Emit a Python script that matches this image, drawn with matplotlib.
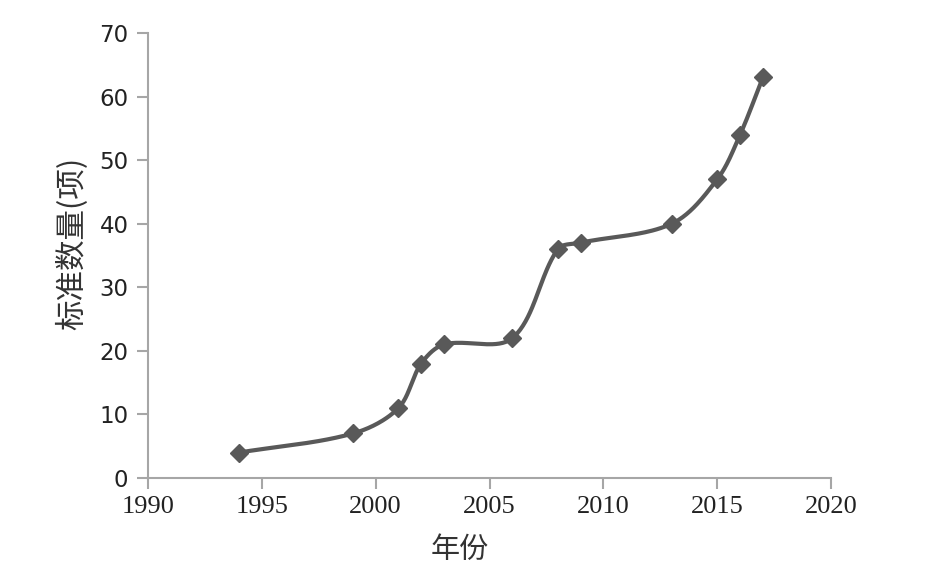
import numpy as np
import matplotlib
matplotlib.use("Agg")
import matplotlib.pyplot as plt

years = [1994, 1999, 2001, 2002, 2003, 2006, 2008, 2009, 2013, 2015, 2016, 2017]
counts = [4, 7, 11, 18, 21, 22, 36, 37, 40, 47, 54, 63]
x_ticks = [1990, 1995, 2000, 2005, 2010, 2015, 2020]
y_ticks = [0, 10, 20, 30, 40, 50, 60, 70]
x_label = "年份"
y_label = "标准数量(项)"


def smooth_curve(xs, ys, sx=1.0, sy=1.0, n=40):
    """Excel-like smoothed line through the data points (Bezier, length-weighted tangents)."""
    P = np.column_stack([np.asarray(xs, float) * sx, np.asarray(ys, float) * sy])
    m = len(P)
    out = []
    for i in range(m - 1):
        p0 = P[max(i - 1, 0)]
        p1 = P[i]
        p2 = P[i + 1]
        p3 = P[min(i + 2, m - 1)]
        d01 = np.linalg.norm(p1 - p0)
        d12 = np.linalg.norm(p2 - p1)
        d23 = np.linalg.norm(p3 - p2)
        f1 = d12 / (d01 + d12) if d01 + d12 > 0 else 0
        f2 = d12 / (d12 + d23) if d12 + d23 > 0 else 0
        c1 = p1 + (p2 - p0) * f1 / 3.0
        c2 = p2 - (p3 - p1) * f2 / 3.0
        t = np.linspace(0, 1, n)[:, None]
        pts = ((1 - t) ** 3) * p1 + 3 * ((1 - t) ** 2) * t * c1 + 3 * (1 - t) * t ** 2 * c2 + t ** 3 * p2
        out.append(pts)
    pts = np.vstack(out)
    return pts[:, 0] / sx, pts[:, 1] / sy


fig = plt.figure(figsize=(9.36, 5.82), dpi=100)
ax = fig.add_axes([0.158, 0.1787, 0.730, 0.7646])

ax.set_xlim(1990, 2020)
ax.set_ylim(0, 70)

# pixel scale factors so smoothing behaves as on screen
sxf = 683 / 30.0
syf = 445 / 70.0
cx, cy = smooth_curve(years, counts, sxf, syf)
col = "#595959"
ax.plot(cx, cy, color=col, lw=3.0, solid_capstyle="round", zorder=2)
ax.plot(years, counts, linestyle="none", marker="D", markersize=9, color=col, zorder=3)

ax.set_xticks(x_ticks)
ax.set_yticks(y_ticks)
ax.set_xticklabels([str(v) for v in x_ticks], fontfamily="Liberation Serif", fontsize=19, color="#222222")
ax.set_yticklabels([str(v) for v in y_ticks], fontfamily="DejaVu Sans", fontsize=16.5, color="#222222")

for s in ["top", "right"]:
    ax.spines[s].set_visible(False)
for s in ["left", "bottom"]:
    ax.spines[s].set_color("#a6a6a6")
    ax.spines[s].set_linewidth(1.5)
ax.tick_params(axis="both", direction="out", color="#a6a6a6", width=1.5, length=8)
ax.tick_params(axis="y", pad=6)
ax.tick_params(axis="x", pad=5)

ax.set_xlabel(x_label, fontfamily=["Noto Sans CJK SC", "DejaVu Sans"], fontsize=21, color="#333333")
ax.set_ylabel(y_label, fontfamily=["Noto Sans CJK SC", "DejaVu Sans"], fontsize=22, color="#333333")
ax.xaxis.set_label_coords(0.457, -0.162, transform=ax.transAxes)
ax.yaxis.set_label_coords(-0.111, 0.528, transform=ax.transAxes)
ax.xaxis.label.set_va("center")
ax.yaxis.label.set_va("center")

fig.savefig("out.png", dpi=100)
